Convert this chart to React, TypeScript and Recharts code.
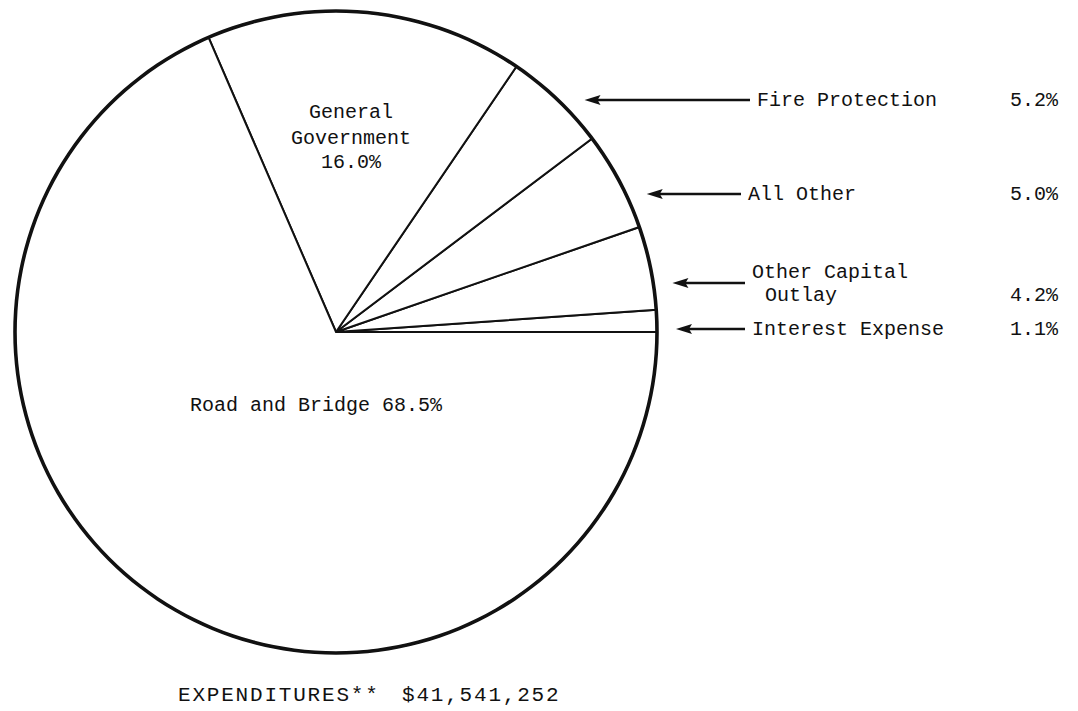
import React from 'react';
import { PieChart, Pie, Cell } from 'recharts';

const categories = ['Interest Expense', 'Other Capital Outlay', 'All Other', 'Fire Protection', 'General Government', 'Road and Bridge'];
const shares = [1.1, 4.2, 5.0, 5.2, 16.0, 68.5];
const pctLabels = ['1.1%', '4.2%', '5.0%', '5.2%', '16.0%', '68.5%'];
const labelLines = [
  ['Interest Expense'],
  ['Other Capital', 'Outlay'],
  ['All Other'],
  ['Fire Protection'],
  ['General', 'Government', '16.0%'],
  ['Road and Bridge 68.5%'],
];
const footerTitle = 'EXPENDITURES**';
const footerAmount = '$41,541,252';

const data = categories.map((name, i) => ({ name, value: shares[i] }));

// label layout (offsets relative to pie centre)
const CX = 336;
const CY = 332;
const R = 321;
const FONT = '"Liberation Mono", "Courier New", "DejaVu Sans Mono", monospace';

type OutLayout = { kind: 'out'; arrowDy: number; textDx: number; lineDys: number[]; lineIndent: number[]; pctDy: number };
type InLayout = { kind: 'in'; dx: number; lineDys: number[] };
const labelLayout: (OutLayout | InLayout)[] = [
  { kind: 'out', arrowDy: -3, textDx: 416, lineDys: [-3], lineIndent: [0], pctDy: -3 },
  { kind: 'out', arrowDy: -49, textDx: 416, lineDys: [-60, -37], lineIndent: [0, 13], pctDy: -37 },
  { kind: 'out', arrowDy: -138, textDx: 412, lineDys: [-138], lineIndent: [0], pctDy: -138 },
  { kind: 'out', arrowDy: -232, textDx: 421, lineDys: [-232], lineIndent: [0], pctDy: -232 },
  { kind: 'in', dx: 15, lineDys: [-220, -194, -170] },
  { kind: 'in', dx: -20, lineDys: [73] },
];
const PCT_RIGHT_DX = 722;

const renderLabel = (props: any) => {
  const index = props.index as number;
  const cx = typeof props.cx === 'number' ? props.cx : CX;
  const cy = typeof props.cy === 'number' ? props.cy : CY;
  const outerRadius = typeof props.outerRadius === 'number' ? props.outerRadius : R;
  const lay = labelLayout[index];
  const lines = labelLines[index];
  if (!lay) return null;
  if (lay.kind === 'in') {
    return (
      <g key={`lbl-${index}`}>
        {lines.map((t, j) => (
          <text key={j} x={cx + lay.dx} y={cy + lay.lineDys[j]} textAnchor="middle" dominantBaseline="central"
            fontFamily={FONT} fontSize={20} fill="#111">{t}</text>
        ))}
      </g>
    );
  }
  const ay = cy + lay.arrowDy;
  const rr = outerRadius + 19;
  const tipX = cx + Math.sqrt(Math.max(0, rr * rr - lay.arrowDy * lay.arrowDy));
  const tailX = cx + lay.textDx - 7;
  return (
    <g key={`lbl-${index}`}>
      <line x1={tipX + 10} y1={ay} x2={tailX} y2={ay} stroke="#111" strokeWidth={2.5} />
      <polygon points={`${tipX},${ay} ${tipX + 16},${ay - 5} ${tipX + 13},${ay} ${tipX + 16},${ay + 5}`} fill="#111" />
      {lines.map((t, j) => (
        <text key={j} x={cx + lay.textDx + lay.lineIndent[j]} y={cy + lay.lineDys[j]} dominantBaseline="central"
          fontFamily={FONT} fontSize={20} fill="#111">{t}</text>
      ))}
      <text x={cx + PCT_RIGHT_DX} y={cy + lay.pctDy} textAnchor="end" dominantBaseline="central"
        fontFamily={FONT} fontSize={20} fill="#111">{pctLabels[index]}</text>
    </g>
  );
};

export default function App() {
  return (
    <div style={{ position: 'absolute', left: 0, top: 0, width: 1078, height: 711, background: '#fff' }}>
      <PieChart width={1078} height={711} margin={{ top: 0, right: 0, bottom: 0, left: 0 }}>
        <Pie
          data={data}
          dataKey="value"
          nameKey="name"
          cx={CX}
          cy={CY}
          outerRadius={R}
          innerRadius={0}
          startAngle={0}
          endAngle={360}
          stroke="#111"
          strokeWidth={2}
          isAnimationActive={false}
          labelLine={false}
          label={renderLabel}
        >
          {data.map((d, i) => (
            <Cell key={i} fill="#fff" stroke="#111" strokeWidth={2} />
          ))}
        </Pie>
        <Pie
          data={[{ name: 'rim', value: 1 }]}
          dataKey="value"
          cx={CX}
          cy={CY}
          innerRadius={R - 1.8}
          outerRadius={R + 1.8}
          startAngle={0}
          endAngle={360}
          fill="#111"
          stroke="none"
          isAnimationActive={false}
          label={false}
          labelLine={false}
        />
        <text x={178} y={695} dominantBaseline="central" fontFamily={FONT} fontSize={21} letterSpacing={1.8} fill="#111">{footerTitle}</text>
        <text x={402} y={695} dominantBaseline="central" fontFamily={FONT} fontSize={21} letterSpacing={1.8} fill="#111">{footerAmount}</text>
      </PieChart>
    </div>
  );
}
